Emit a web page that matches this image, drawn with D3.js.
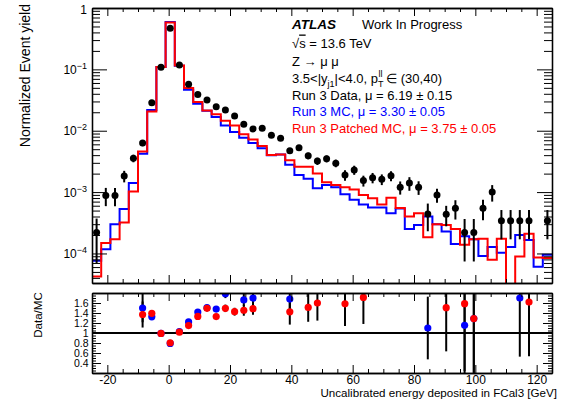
<!DOCTYPE html>
<html>
<head>
<meta charset="utf-8">
<script src="https://cdn.jsdelivr.net/npm/d3@7"></script>
<style>
  body { margin: 0; background: #fff; }
  text { font-family: "Liberation Sans", Arial, Helvetica, sans-serif; }
</style>
</head>
<body>
<svg class="chart"></svg>
<script>
// ---- data (3 GeV bins from -25 to 125 GeV) ----
var binLow = -25, binWidth = 3;

var dataVals = [2.2e-4, 8.8e-4, 8.8e-4, 1.83e-3, 3.56e-3, 6.3e-3, 0.0287, 0.108, 0.467, 0.118,
    0.057, 0.039, 0.0318, 0.0247, 0.0218, 0.0174, 0.0128, 0.0107, 0.011, 0.00845,
    0.00755, 0.0047, 0.0053, 0.0039, 0.0032, 0.0035, 0.00296, 0.0019, 0.0023, 0.00154,
    0.00172, 0.00162, 0.00184, 0.0012, 0.0014, 0.0012, 4.4e-4, 9.0e-4, 4.37e-4, 5.47e-4,
    2.19e-4, 2.19e-4, 5.47e-4, 1.0e-3, 3.4e-4, 3.4e-4, 3.4e-4, 3.4e-4, 0, 3.4e-4];

var dataErr = [1.5e-4, 2.9e-4, 2.9e-4, 3.9e-4, 5e-4, 7e-4, 1.4e-3, 3e-3, 8e-3, 3e-3,
    2e-3, 1.6e-3, 1.4e-3, 1.2e-3, 1.1e-3, 1e-3, 8.5e-4, 8e-4, 8e-4, 7e-4,
    6.5e-4, 5e-4, 5.5e-4, 4.8e-4, 4.3e-4, 4.5e-4, 4.2e-4, 3.7e-4, 3.9e-4, 3.1e-4,
    3.3e-4, 3.2e-4, 3.4e-4, 2.9e-4, 3.5e-4, 3e-4, 2.1e-4, 2.3e-4, 1.6e-4, 1.9e-4,
    1.45e-4, 1.45e-4, 2e-4, 3e-4, 1.7e-4, 1.7e-4, 1.7e-4, 1.7e-4, 0, 1.7e-4];

// Run 3 MC (blue)
var mcVals = [7.6e-5, 1.17e-4, 3.0e-4, 5.3e-4, 1.4e-3, 4.2e-3, 0.0217, 0.109, 0.59, 0.1146,
    0.0467, 0.0275, 0.0211, 0.0167, 0.0122, 0.0095, 0.0077, 0.0063, 0.0052, 0.0040,
    0.0041, 0.0028, 0.0019, 0.00165, 0.00116, 0.00131, 0.0012, 9.2e-4, 7.5e-4, 6.3e-4,
    5.6e-4, 5.6e-4, 4.5e-4, 5.4e-4, 2.5e-4, 2.9e-4, 4.0e-4, 3.0e-4, 2.27e-4, 1.43e-4,
    1.9e-4, 1.7e-4, 9.1e-5, 1.27e-4, 1.03e-4, 1.27e-4, 2.0e-4, 1.66e-4, 6.1e-5, 9.5e-5];

// Run 3 Patched MC (red)
var patchedVals = [4.2e-5, 1.48e-4, 1.7e-4, 3.2e-4, 1.02e-3, 4.6e-3, 0.0206, 0.109, 0.58, 0.116,
    0.0496, 0.0293, 0.0213, 0.0186, 0.0146, 0.0122, 0.0088, 0.0072, 0.00565, 0.00404,
    0.0041, 0.0033, 0.0026, 0.00258, 0.002, 0.00145, 0.0013, 0.0012, 0.0011, 9.0e-4,
    7.9e-4, 6.3e-4, 8.1e-4, 5.5e-4, 4.0e-4, 4.5e-4, 1.84e-4, 3.0e-4, 2.9e-4, 2.5e-4,
    1.38e-4, 1.7e-4, 1.73e-4, 7.9e-5, 1.73e-4, 0, 8.9e-5, 2.1e-4, 8.6e-5, 8.4e-5];

// relative uncertainty on Data/MC in each bin
var ratioRelErr = [0.5, 0.35, 0.35, 0.25, 0.15, 0.19, 0.04, 0.02, 0.015, 0.02,
    0.03, 0.035, 0.04, 0.04, 0.05, 0.055, 0.075, 0.08, 0.09, 0.1,
    0.11, 0.18, 0.17, 0.19, 0.22, 0.22, 0.24, 0.28, 0.28, 0.31,
    0.33, 0.35, 0.35, 0.4, 0.4, 0.45, 0.57, 0.5, 0.58, 0.55,
    0.85, 0.85, 0.6, 0.5, 0.7, 0.7, 0.69, 0.67, 0.7, 0.7];

var xMajorTicks = [-20, 0, 20, 40, 60, 80, 100, 120];
var yDecades = [1e-4, 1e-3, 1e-2, 1e-1, 1];
var ratioTicks = [0.4, 0.6, 0.8, 1, 1.2, 1.4, 1.6];

var legendLines = [
    {text: "Run 3 Data, \u03bc = 6.19 \u00b1 0.15", color: "#000"},
    {text: "Run 3 MC, \u03bc = 3.30 \u00b1 0.05", color: "#0000ff"},
    {text: "Run 3 Patched MC, \u03bc = 3.75 \u00b1 0.05", color: "#ff0000"}
];

// ---- layout ----
var W = 566, H = 401;
var L = 92, R = 552;
var top1 = 8, bot1 = 283;     // main pad frame
var top2 = 293, bot2 = 373;   // ratio pad frame

var svg = d3.select(".chart").attr("width", W).attr("height", H);

var x = d3.scaleLinear().domain([-25, 125]).range([L, R]);
var y = d3.scaleLog().domain([3.3e-5, 1]).range([bot1, top1]);
var yr = d3.scaleLinear().domain([0.2, 1.8]).range([bot2, top2]);

var bins = dataVals.map(function(d, i) {
    return {
        lo: binLow + i * binWidth,
        hi: binLow + (i + 1) * binWidth,
        c: binLow + (i + 0.5) * binWidth,
        data: d, err: dataErr[i],
        mc: mcVals[i], patched: patchedVals[i], rel: ratioRelErr[i]
    };
});

svg.append("clipPath").attr("id", "clip1")
    .append("rect").attr("x", L).attr("y", top1).attr("width", R - L).attr("height", bot1 - top1);
svg.append("clipPath").attr("id", "clip2")
    .append("rect").attr("x", L).attr("y", top2).attr("width", R - L).attr("height", bot2 - top2);

// minor tick helpers
var xMinor = d3.range(-25, 126, 5).filter(function(v) { return xMajorTicks.indexOf(v) < 0; });
var yMinor = [];
[1e-5, 1e-4, 1e-3, 1e-2, 1e-1].forEach(function(dec) {
    for (var k = 2; k <= 9; k++) {
        var v = k * dec;
        if (v > 3.3e-5 && v < 1) yMinor.push(v);
    }
});
var rMinor = d3.range(0.2, 1.81, 0.05).map(function(v) { return Math.round(v * 100) / 100; })
    .filter(function(v) { return ratioTicks.indexOf(v) < 0; });

function drawAxis(axis, tx, ty) {
    var g = svg.append("g").attr("transform", "translate(" + tx + "," + ty + ")").call(axis);
    g.selectAll("line").attr("stroke", "#000").attr("stroke-width", 1);
    g.select(".domain").attr("stroke", "#000").attr("stroke-width", 1.3);
    return g;
}

// ---- main pad ----
var main = svg.append("g").attr("clip-path", "url(#clip1)");

function stepPoints(key) {
    var pts = [];
    bins.forEach(function(b) {
        var v = b[key] > 0 ? b[key] : 1e-6;
        pts.push([x(b.lo), y(v)], [x(b.hi), y(v)]);
    });
    return pts;
}
var line = d3.line();

main.append("path").attr("d", line(stepPoints("mc")))
    .attr("fill", "none").attr("stroke", "#0000ff").attr("stroke-width", 2);
main.append("path").attr("d", line(stepPoints("patched")))
    .attr("fill", "none").attr("stroke", "#ff0000").attr("stroke-width", 2);

var pts = bins.filter(function(b) { return b.data > 0; });
main.selectAll(".derr").data(pts).enter().append("line")
    .attr("x1", function(b) { return x(b.c); }).attr("x2", function(b) { return x(b.c); })
    .attr("y1", function(b) { return y(b.data + b.err); })
    .attr("y2", function(b) { return y(Math.max(b.data - b.err, 1e-6)); })
    .attr("stroke", "#000").attr("stroke-width", 2);
main.selectAll(".dpt").data(pts).enter().append("circle")
    .attr("cx", function(b) { return x(b.c); }).attr("cy", function(b) { return y(b.data); })
    .attr("r", 3.5).attr("fill", "#000");

// main pad axes (ticks inside, on all four sides)
drawAxis(d3.axisBottom(x).tickValues(xMajorTicks).tickSize(-8).tickSizeOuter(0).tickFormat(""), 0, bot1);
drawAxis(d3.axisBottom(x).tickValues(xMinor).tickSize(-4).tickSizeOuter(0).tickFormat(""), 0, bot1);
drawAxis(d3.axisTop(x).tickValues(xMajorTicks).tickSize(-8).tickSizeOuter(0).tickFormat(""), 0, top1);
drawAxis(d3.axisTop(x).tickValues(xMinor).tickSize(-4).tickSizeOuter(0).tickFormat(""), 0, top1);
drawAxis(d3.axisLeft(y).tickValues(yDecades).tickSize(-15).tickSizeOuter(0).tickFormat(""), L, 0);
drawAxis(d3.axisLeft(y).tickValues(yMinor).tickSize(-8).tickSizeOuter(0).tickFormat(""), L, 0);
drawAxis(d3.axisRight(y).tickValues(yDecades).tickSize(-15).tickSizeOuter(0).tickFormat(""), R, 0);
drawAxis(d3.axisRight(y).tickValues(yMinor).tickSize(-8).tickSizeOuter(0).tickFormat(""), R, 0);

// log labels 1, 10^-1 ...
yDecades.forEach(function(v) {
    var t = svg.append("text").attr("x", 87).attr("y", y(v) + (v === 1 ? 6 : 4.5))
        .attr("text-anchor", "end").attr("font-size", 12).attr("fill", "#000");
    if (v === 1) {
        t.text("1");
    } else {
        t.append("tspan").text("10");
        t.append("tspan").attr("dy", -5).attr("font-size", 9)
            .text("\u2212" + Math.round(-Math.log10(v)));
    }
});

svg.append("text").attr("transform", "translate(30,4) rotate(-90)")
    .attr("text-anchor", "end").attr("font-size", 14).text("Normalized Event yield");

// ---- annotation ----
var ann = svg.append("g");
ann.append("text").attr("x", 292).attr("y", 28.5).attr("font-size", 13.5)
    .attr("font-weight", "bold").attr("font-style", "italic").text("ATLAS");
ann.append("text").attr("x", 362).attr("y", 28.5).attr("font-size", 13).text("Work In Progress");

var rs = ann.append("text").attr("x", 292).attr("y", 47.5).attr("font-size", 13);
rs.append("tspan").text("\u221a");
rs.append("tspan").attr("text-decoration", "overline").text("s");
rs.append("tspan").text(" = 13.6 TeV");

ann.append("text").attr("x", 292).attr("y", 65.5).attr("font-size", 13).text("Z \u2192 \u03bc \u03bc");

var cut = ann.append("text").attr("x", 292).attr("y", 83).attr("font-size", 13);
cut.append("tspan").text("3.5<|y");
cut.append("tspan").attr("dy", 4).attr("font-size", 9).text("j1");
cut.append("tspan").attr("dy", -4).text("|<4.0, p");
cut.append("tspan").attr("dy", 4).attr("font-size", 9).text("T");
cut.append("tspan").attr("dy", -10).attr("dx", -5).attr("font-size", 9).text("ll");
cut.append("tspan").attr("dy", 6).text(" \u2208 (30,40)");

legendLines.forEach(function(l, i) {
    ann.append("text").attr("x", 292).attr("y", 99.5 + i * 16.8).attr("font-size", 13)
        .attr("fill", l.color).text(l.text);
});

// ---- ratio pad ----
var rpad = svg.append("g").attr("clip-path", "url(#clip2)");
rpad.append("line").attr("x1", L).attr("x2", R).attr("y1", yr(1)).attr("y2", yr(1))
    .attr("stroke", "#000").attr("stroke-width", 1.8);

function ratioPoints(key) {
    return bins.filter(function(b) {
        if (!(b.data > 0 && b[key] > 0)) return false;
        var r = b.data / b[key];
        return r >= 0.2 && r <= 1.8;
    }).map(function(b) {
        var r = b.data / b[key];
        return {c: b.c, r: r, e: r * b.rel};
    });
}
var blueR = ratioPoints("mc"), redR = ratioPoints("patched");

[blueR, redR].forEach(function(set) {
    rpad.selectAll(null).data(set).enter().append("line")
        .attr("x1", function(d) { return x(d.c); }).attr("x2", function(d) { return x(d.c); })
        .attr("y1", function(d) { return yr(d.r + d.e); }).attr("y2", function(d) { return yr(d.r - d.e); })
        .attr("stroke", "#000").attr("stroke-width", 2);
});
rpad.selectAll(null).data(blueR).enter().append("circle")
    .attr("cx", function(d) { return x(d.c); }).attr("cy", function(d) { return yr(d.r); })
    .attr("r", 3.6).attr("fill", "#0000ff");
rpad.selectAll(null).data(redR).enter().append("circle")
    .attr("cx", function(d) { return x(d.c); }).attr("cy", function(d) { return yr(d.r); })
    .attr("r", 3.6).attr("fill", "#ff0000");

var bx = drawAxis(d3.axisBottom(x).tickValues(xMajorTicks).tickSize(-8).tickSizeOuter(0).tickPadding(2.5)
    .tickFormat(function(d) { return String(d); }), 0, bot2);
bx.selectAll("text").attr("font-size", 12).attr("fill", "#000").attr("font-family", "Liberation Sans, Arial");
drawAxis(d3.axisBottom(x).tickValues(xMinor).tickSize(-4).tickSizeOuter(0).tickFormat(""), 0, bot2);
drawAxis(d3.axisTop(x).tickValues(xMajorTicks).tickSize(-8).tickSizeOuter(0).tickFormat(""), 0, top2);
drawAxis(d3.axisTop(x).tickValues(xMinor).tickSize(-4).tickSizeOuter(0).tickFormat(""), 0, top2);
var ly = drawAxis(d3.axisLeft(yr).tickValues(ratioTicks).tickSize(-9).tickSizeOuter(0).tickPadding(3.5)
    .tickFormat(function(d) { return d === 1 ? "1" : d.toFixed(1); }), L, 0);
ly.selectAll("text").attr("font-size", 10.5).attr("fill", "#000").attr("font-family", "Liberation Sans, Arial");
drawAxis(d3.axisLeft(yr).tickValues(rMinor).tickSize(-4).tickSizeOuter(0).tickFormat(""), L, 0);
drawAxis(d3.axisRight(yr).tickValues(ratioTicks).tickSize(-9).tickSizeOuter(0).tickFormat(""), R, 0);
drawAxis(d3.axisRight(yr).tickValues(rMinor).tickSize(-4).tickSizeOuter(0).tickFormat(""), R, 0);

svg.append("text").attr("transform", "translate(42,315) rotate(-90)")
    .attr("text-anchor", "middle").attr("font-size", 11.5).text("Data/MC");

svg.append("text").attr("x", 557).attr("y", 397).attr("text-anchor", "end")
    .attr("font-size", 11.6).text("Uncalibrated energy deposited in FCal3 [GeV]");
</script>
</body>
</html>
